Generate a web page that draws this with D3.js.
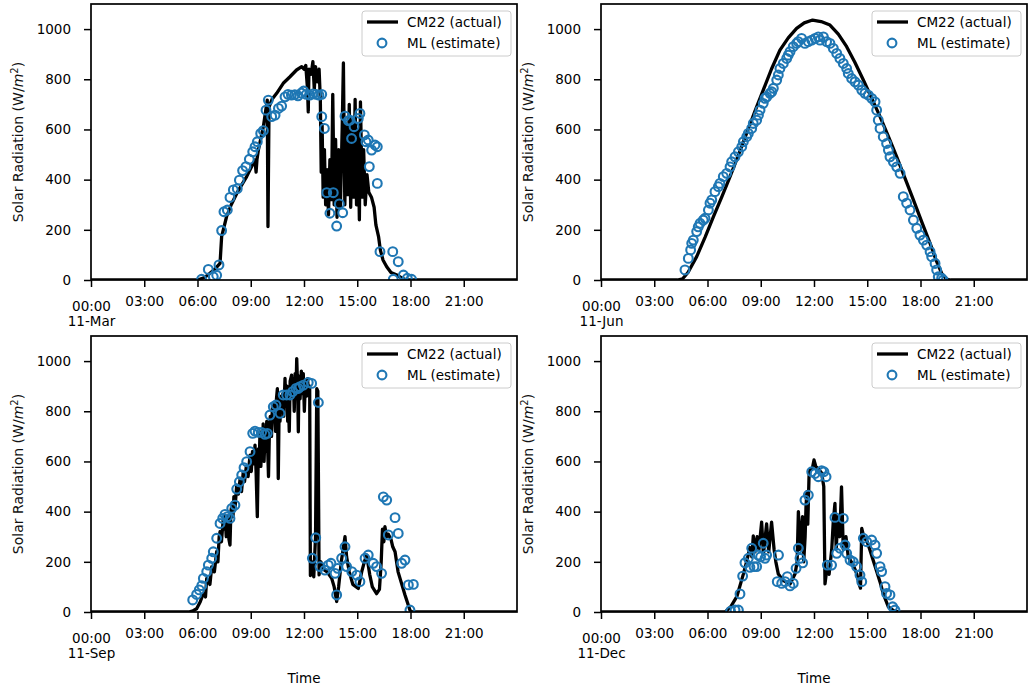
<!DOCTYPE html>
<html>
<head>
<meta charset="utf-8">
<script src="https://cdn.jsdelivr.net/npm/d3@7"></script>
<style>
  body { margin: 0; background: #fff; }
  svg text { font-family: "DejaVu Sans", sans-serif; }
</style>
</head>
<body>
<div id="chart"></div>
<script>
// constants
const W = 1028, H = 691;
const pW = 426, pH = 276;
const fontSize = 13.5;
const blue = '#1f77b4';

// tick values and labels
const hourTicks = [0, 3, 6, 9, 12, 15, 18, 21];
const radTicks = [0, 200, 400, 600, 800, 1000];
const dayLabels = ['11-Mar', '11-Jun', '11-Sep', '11-Dec'];
const seriesNames = ['CM22 (actual)', 'ML (estimate)'];
const yLabelText = 'Solar Radiation (W/';
const xLabelText = 'Time';

// [hour, W/m2] - CM22 measured, 11 March
const marActual = [[0,0],[6.0,0],[6.4,10],[6.7,27],[7.0,45],[7.27,66],[7.36,173],[7.64,253],[7.9,300],[8.21,345],[8.5,380],
  [8.77,412],[9.0,445],[9.24,478],[9.3,430],[9.35,480],[9.43,518],[9.71,611],[9.93,717],[9.97,213],[10.03,690],[10.2,720],
  [10.46,744],[10.83,784],[11.21,810],[11.58,837],[11.87,850],[12.0,840],[12.1,855],[12.2,760],[12.24,670],[12.28,840],
  [12.4,820],[12.5,870],[12.58,760],[12.65,850],[12.75,790],[12.85,840],[12.92,720],[12.97,430],[13.02,620],[13.08,330],
  [13.15,520],[13.22,300],[13.3,440],[13.38,260],[13.46,480],[13.55,320],[13.62,740],[13.7,300],[13.78,560],[13.86,250],
  [13.95,520],[14.05,290],[14.15,600],[14.22,865],[14.3,300],[14.38,620],[14.46,340],[14.55,700],[14.63,290],[14.72,640],
  [14.8,330],[14.88,720],[14.96,300],[15.04,600],[15.12,240],[15.18,710],[15.28,330],[15.36,520],[15.45,300],[15.55,420],
  [15.65,350],[15.8,330],[15.95,290],[16.05,220],[16.2,173],[16.3,120],[16.45,80],[16.66,53],[16.9,30],[17.23,20],[17.5,8],
  [17.78,0],[24,0]];
// [hour, W/m2] - ML estimate, 11 March
const marEstimate = [[6.23,3],[6.61,42],[6.89,13],[7.08,19],[7.21,60],[7.36,197],[7.49,272],[7.68,279],[7.83,329],[8.02,359],
  [8.24,364],[8.36,398],[8.54,436],[8.73,452],[8.92,481],[9.11,511],[9.24,531],[9.37,551],[9.56,584],[9.71,595],[9.86,677],
  [9.99,717],[10.18,651],[10.37,657],[10.56,684],[10.74,693],[10.93,730],[11.1,740],[11.29,737],[11.48,739],[11.66,734],
  [11.85,745],[11.98,753],[12.13,740],[12.32,737],[12.5,742],[12.69,740],[12.84,737],[13.0,740],[13.0,651],[13.15,604],
  [13.28,348],[13.46,266],[13.65,348],[13.84,215],[13.99,303],[14.18,268],[14.31,653],[14.5,635],[14.59,637],[14.68,564],
  [14.82,611],[15.06,644],[15.15,664],[15.4,578],[15.49,551],[15.62,558],[15.68,452],[15.81,518],[16.0,538],[16.13,531],
  [16.13,385],[16.28,113],[17.0,113],[17.03,3],[17.31,73],[17.6,20],[17.82,7],[18.06,3]];

// 11 June
const junActual = [[0,0],[4.3,0],[4.6,5],[4.9,30],[5.39,93],[5.86,170],[6.33,252],[6.8,330],[7.27,412],[7.74,498],[8.2,584],
  [8.67,672],[9.14,757],[9.6,840],[10.08,916],[10.55,965],[11.02,1003],[11.45,1025],[11.92,1036],[12.4,1030],[12.9,1016],
  [13.37,980],[13.84,930],[14.3,868],[14.78,797],[15.25,725],[15.72,651],[16.19,572],[16.66,491],[17.13,405],[17.6,319],
  [18.07,232],[18.54,146],[18.9,75],[19.19,27],[19.47,3],[19.7,0],[24,0]];
const junEstimate = [[4.73,40],[4.92,86],[5.05,120],[5.11,146],[5.2,159],[5.39,193],[5.48,212],[5.58,226],[5.76,239],[5.86,246],
  [6.05,279],[6.14,306],[6.24,319],[6.42,352],[6.61,372],[6.7,385],[6.89,412],[7.08,425],[7.27,451],[7.36,471],[7.55,491],
  [7.74,511],[7.93,531],[8.02,551],[8.21,571],[8.3,584],[8.49,604],[8.58,624],[8.77,637],[8.87,657],[8.96,677],[9.14,704],
  [9.24,724],[9.34,730],[9.52,744],[9.62,750],[9.71,764],[9.9,797],[9.99,817],[10.08,843],[10.27,863],[10.46,883],[10.55,896],
  [10.65,910],[10.83,930],[11.02,943],[11.11,950],[11.3,963],[11.49,943],[11.68,950],[11.87,956],[12.06,963],[12.24,969],
  [12.34,956],[12.53,969],[12.71,950],[12.9,943],[13.09,923],[13.28,903],[13.46,883],[13.65,863],[13.84,843],[13.93,823],
  [14.12,803],[14.31,790],[14.5,777],[14.69,757],[14.87,744],[15.06,737],[15.25,724],[15.44,710],[15.53,677],[15.62,637],
  [15.72,604],[15.9,571],[16.09,544],[16.19,518],[16.28,491],[16.47,471],[16.66,451],[16.85,425],[17.03,332],[17.22,306],
  [17.41,279],[17.6,239],[17.79,206],[17.97,179],[18.16,159],[18.35,139],[18.54,113],[18.63,93],[18.82,66],[18.91,40],
  [19.0,13],[19.19,7],[19.28,0]];

// 11 September
const sepActual = [[0,0],[5.5,0],[5.75,5],[5.95,13],[6.15,40],[6.33,74],[6.45,60],[6.52,134],[6.7,110],[6.8,180],[6.95,160],
  [7.08,240],[7.15,200],[7.22,300],[7.27,320],[7.35,280],[7.45,370],[7.5,330],[7.55,386],[7.62,300],[7.7,380],[7.77,290],
  [7.83,267],[7.88,400],[7.93,426],[8.0,380],[8.05,460],[8.12,420],[8.21,506],[8.3,470],[8.4,530],[8.48,480],[8.58,559],
  [8.65,520],[8.75,580],[8.85,540],[8.96,625],[9.03,560],[9.1,640],[9.17,590],[9.24,665],[9.3,560],[9.37,380],[9.43,650],
  [9.48,600],[9.52,718],[9.57,580],[9.62,700],[9.67,620],[9.7,750],[9.75,600],[9.8,700],[9.85,640],[9.9,760],[9.95,660],
  [10.0,540],[10.05,720],[10.1,780],[10.17,700],[10.22,820],[10.27,760],[10.33,830],[10.4,720],[10.45,850],[10.5,890],
  [10.55,532],[10.6,820],[10.65,760],[10.7,860],[10.75,800],[10.8,870],[10.86,780],[10.93,931],[10.98,820],[11.04,900],
  [11.08,760],[11.12,840],[11.17,720],[11.22,920],[11.3,944],[11.35,860],[11.4,930],[11.45,800],[11.5,950],[11.55,880],
  [11.59,1010],[11.64,900],[11.68,718],[11.72,940],[11.78,850],[11.85,960],[11.9,870],[11.96,950],[12.02,800],[12.08,920],
  [12.15,860],[12.2,930],[12.25,880],[12.32,900],[12.36,145],[12.45,200],[12.55,140],[12.65,300],[12.72,890],[12.78,880],
  [12.85,148],[12.95,200],[13.1,170],[13.3,160],[13.56,134],[13.7,100],[13.84,42],[13.95,100],[14.1,200],[14.31,300],
  [14.4,220],[14.55,160],[14.75,110],[15.06,94],[15.25,160],[15.4,200],[15.53,227],[15.7,150],[15.85,100],[16.09,73],
  [16.25,90],[16.35,200],[16.42,330],[16.5,280],[16.56,340],[16.65,300],[16.75,310],[16.9,290],[17.0,260],[17.13,240],
  [17.3,160],[17.41,134],[17.69,68],[17.97,7],[18.1,0],[24,0]];
const sepEstimate = [[5.73,48],[5.95,70],[6.1,88],[6.24,105],[6.33,134],[6.52,161],[6.61,187],[6.8,214],[6.89,240],[7.08,294],
  [7.27,353],[7.42,373],[7.55,389],[7.68,380],[7.83,373],[7.93,413],[8.11,426],[8.21,490],[8.36,519],[8.49,546],[8.62,575],
  [8.77,599],[8.96,639],[9.11,712],[9.24,721],[9.42,716],[9.61,716],[9.8,708],[9.93,712],[10.08,785],[10.27,818],[10.42,825],
  [10.65,792],[10.83,865],[11.02,865],[11.21,865],[11.36,878],[11.55,891],[11.68,891],[11.77,898],[11.96,904],[12.24,915],
  [12.43,911],[12.81,835],[12.66,296],[12.47,214],[12.9,181],[13.18,167],[13.37,187],[13.52,194],[13.75,154],[13.9,174],
  [13.84,68],[14.12,214],[14.31,260],[14.4,181],[14.69,161],[14.97,147],[15.15,121],[15.44,214],[15.62,227],[15.9,194],
  [16.09,181],[16.37,154],[16.47,459],[16.66,446],[17.13,376],[17.31,313],[16.75,307],[17.5,194],[17.69,207],[17.88,108],
  [18.16,110],[17.97,8]];

// 11 December
const decActual = [[0,0],[7.0,0],[7.3,20],[7.65,61],[8.02,151],[8.2,200],[8.39,257],[8.5,220],[8.58,303],[8.68,240],[8.8,300],
  [8.9,250],[9.05,358],[9.15,230],[9.33,351],[9.45,240],[9.61,358],[9.75,250],[9.85,200],[9.99,151],[10.27,125],[10.65,112],
  [10.93,151],[11.05,200],[11.12,400],[11.2,250],[11.35,380],[11.42,200],[11.5,300],[11.55,420],[11.6,480],[11.65,350],
  [11.72,540],[11.77,566],[11.9,570],[12.0,606],[12.1,580],[12.25,570],[12.43,554],[12.55,500],[12.62,112],[12.72,170],
  [12.85,150],[13.0,250],[13.08,353],[13.18,433],[13.25,250],[13.35,380],[13.45,300],[13.55,499],[13.65,250],[13.8,300],
  [13.93,220],[14.1,200],[14.25,180],[14.4,154],[14.55,110],[14.62,95],[14.69,333],[14.8,300],[15.0,280],[15.15,247],
  [15.45,180],[15.72,120],[15.9,73],[16.19,20],[16.5,5],[16.85,0],[24,0]];
const decEstimate = [[7.3,3],[7.55,8],[7.74,8],[7.83,72],[7.98,143],[8.11,196],[8.3,214],[8.39,178],[8.49,254],[8.62,181],
  [8.77,181],[8.86,227],[8.99,220],[9.14,274],[9.24,214],[9.33,227],[10.0,227],[9.93,121],[10.18,114],[10.37,121],[10.5,141],
  [10.65,104],[10.83,114],[10.99,174],[11.12,254],[11.21,214],[11.36,196],[11.49,446],[11.68,466],[11.87,559],[12.06,552],
  [12.24,539],[12.43,563],[12.56,559],[12.68,539],[12.75,187],[12.99,187],[13.18,377],[13.65,373],[13.28,234],[13.46,254],
  [13.75,267],[13.84,234],[14.03,207],[14.21,200],[14.4,181],[14.59,147],[14.69,121],[14.78,294],[14.97,280],[15.25,287],
  [15.44,267],[15.53,234],[15.72,181],[15.81,161],[16.0,101],[16.09,74],[16.28,68],[16.43,21],[16.56,8]];

// panel positions (left, top of the axes box)
const panels = [
  {left: 91,  top: 4,   actual: marActual, estimate: marEstimate, day: dayLabels[0], xLabel: false},
  {left: 601, top: 4,   actual: junActual, estimate: junEstimate, day: dayLabels[1], xLabel: false},
  {left: 91,  top: 336, actual: sepActual, estimate: sepEstimate, day: dayLabels[2], xLabel: true},
  {left: 601, top: 336, actual: decActual, estimate: decEstimate, day: dayLabels[3], xLabel: true}
];

const svg = d3.select('#chart')
  .append('svg')
  .attr('width', W)
  .attr('height', H)
  .style('background', '#fff');

panels.forEach((p, i) => draw_panel(p, i));

function draw_panel(p, idx){
  const g = svg.append('g')
    .attr('transform', `translate(${p.left},${p.top})`);

  let x = d3.scaleLinear().domain([0, 24]).range([0, pW]);
  let y = d3.scaleLinear().domain([0, 1100]).range([pH, 0]);

  // clip to the axes box
  g.append('clipPath').attr('id', `clip${idx}`)
    .append('rect').attr('width', pW).attr('height', pH);

  const plot = g.append('g').attr('clip-path', `url(#clip${idx})`);

  let line = d3.line()
    .x(d => x(d[0]))
    .y(d => y(d[1]));

  plot.append('path')
    .datum(p.actual)
    .attr('d', line)
    .attr('fill', 'none')
    .attr('stroke', '#000')
    .attr('stroke-width', 3.3)
    .attr('stroke-linejoin', 'round');

  plot.selectAll('circle')
    .data(p.estimate)
    .enter()
    .append('circle')
    .attr('cx', d => x(d[0]))
    .attr('cy', d => y(d[1]))
    .attr('r', 4.4)
    .attr('fill', 'none')
    .attr('stroke', blue)
    .attr('stroke-width', 2.1);

  // x axis
  const xg = g.append('g')
    .attr('transform', `translate(0,${pH})`)
    .call(d3.axisBottom(x).tickValues(hourTicks).tickSize(7).tickSizeOuter(0)
      .tickFormat(d => d3.format('02d')(d) + ':00'));
  xg.select('.domain').remove();
  xg.selectAll('line').attr('stroke-width', 1.5);
  xg.selectAll('text')
    .attr('font-family', 'DejaVu Sans')
    .attr('font-size', fontSize)
    .attr('fill', '#000')
    .attr('dy', null)
    .attr('y', 26);
  xg.selectAll('text').filter(d => d === 0).each(function(){
    const t = d3.select(this);
    t.text(null).attr('y', null);
    t.append('tspan').attr('x', 0).attr('y', 31).text('00:00');
    t.append('tspan').attr('x', 0).attr('y', 46).text(p.day);
  });

  // y axis
  const yg = g.append('g')
    .call(d3.axisLeft(y).tickValues(radTicks).tickSize(7).tickPadding(13).tickSizeOuter(0)
      .tickFormat(d3.format('d')));
  yg.select('.domain').remove();
  yg.selectAll('line').attr('stroke-width', 1.5);
  yg.selectAll('text')
    .attr('font-family', 'DejaVu Sans')
    .attr('font-size', fontSize)
    .attr('fill', '#000');

  // spines
  g.append('rect')
    .attr('width', pW)
    .attr('height', pH)
    .attr('fill', 'none')
    .attr('stroke', '#000')
    .attr('stroke-width', 1.7);

  // y label
  const yl = g.append('text')
    .attr('transform', `translate(${23 - 91},${pH / 2}) rotate(-90)`)
    .attr('text-anchor', 'middle')
    .attr('font-size', 14)
    .attr('fill', '#111')
    .text(yLabelText);
  yl.append('tspan').attr('font-style', 'italic').text('m');
  yl.append('tspan').attr('font-size', 10).attr('dy', -5.5).text('2');
  yl.append('tspan').attr('dy', 5.5).text(')');

  if (p.xLabel){
    g.append('text')
      .attr('x', pW / 2)
      .attr('y', pH + 71)
      .attr('text-anchor', 'middle')
      .attr('font-size', fontSize)
      .attr('fill', '#000')
      .text(xLabelText);
  }

  // legend
  const lg = g.append('g').attr('transform', `translate(${pW - 155},7)`);
  lg.append('rect')
    .attr('width', 149)
    .attr('height', 45)
    .attr('rx', 3)
    .attr('fill', '#fff')
    .attr('fill-opacity', 0.8)
    .attr('stroke', '#ccc')
    .attr('stroke-width', 1);
  lg.append('line')
    .attr('x1', 5).attr('x2', 36)
    .attr('y1', 11).attr('y2', 11)
    .attr('stroke', '#000')
    .attr('stroke-width', 3.3);
  lg.append('circle')
    .attr('cx', 20).attr('cy', 32)
    .attr('r', 4.4)
    .attr('fill', 'none')
    .attr('stroke', blue)
    .attr('stroke-width', 2.1);
  lg.selectAll('text.leg')
    .data(seriesNames)
    .enter()
    .append('text')
    .attr('class', 'leg')
    .attr('x', 45)
    .attr('y', (d, i) => 16 + i * 21)
    .attr('font-size', fontSize)
    .attr('fill', '#000')
    .text(d => d);
}
</script>
</body>
</html>
